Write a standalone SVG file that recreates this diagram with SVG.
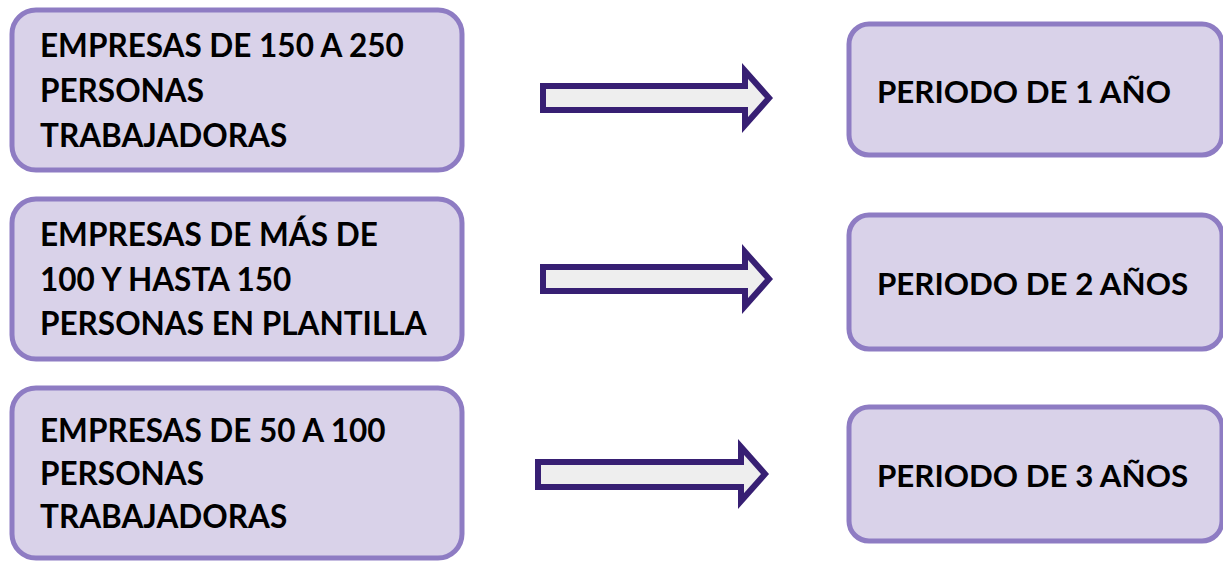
<svg xmlns="http://www.w3.org/2000/svg" width="1223" height="562" viewBox="0 0 1223 562">
<style>
.box{fill:#d9d2e9;stroke:#8e7cc3;stroke-width:5}
.t{font-family:Lato,"Liberation Sans",sans-serif;font-weight:bold;font-size:31.5px;fill:#000}
.tr{font-family:Lato,"Liberation Sans",sans-serif;font-weight:bold;font-size:31.3px;fill:#000}
.arr{fill:#eeeeee;stroke:#371f73;stroke-width:6;stroke-linejoin:miter}
</style>
<rect width="1223" height="562" fill="#fff"/>
<g id="left1">
<rect class="box" x="12" y="10" width="450" height="160" rx="24"/>
<text class="t" x="40" y="57">EMPRESAS DE 150 A 250</text>
<text class="t" x="40" y="102">PERSONAS</text>
<text class="t" x="40" y="147">TRABAJADORAS</text>
</g>
<g id="left2">
<rect class="box" x="12" y="199" width="450" height="160" rx="24"/>
<text class="t" x="40" y="246">EMPRESAS DE MÁS DE</text>
<text class="t" x="40" y="291">100 Y HASTA 150</text>
<text class="t" x="40" y="335">PERSONAS EN PLANTILLA</text>
</g>
<g id="left3">
<rect class="box" x="12" y="388" width="450" height="170" rx="24"/>
<text class="t" x="40" y="442">EMPRESAS DE 50 A 100</text>
<text class="t" x="40" y="485">PERSONAS</text>
<text class="t" x="40" y="528">TRABAJADORAS</text>
</g>
<g id="right1">
<rect class="box" x="849" y="24" width="373" height="131" rx="20"/>
<text class="tr" x="877" y="103">PERIODO DE 1 AÑO</text>
</g>
<g id="right2">
<rect class="box" x="849" y="215" width="373" height="134" rx="20"/>
<text class="tr" x="877" y="295">PERIODO DE 2 AÑOS</text>
</g>
<g id="right3">
<rect class="box" x="849" y="407" width="373" height="134" rx="20"/>
<text class="tr" x="877" y="487">PERIODO DE 3 AÑOS</text>
</g>
<g id="connectors">
<polygon class="arr" points="543,86 745,86 745,71 769,98 745,125 745,110 543,110"/>
<polygon class="arr" points="543,267 745,267 745,252 769,279 745,306 745,291 543,291"/>
<polygon class="arr" points="538,462 741,462 741,447 765,474 741,501 741,487 538,487"/>
</g>
</svg>
